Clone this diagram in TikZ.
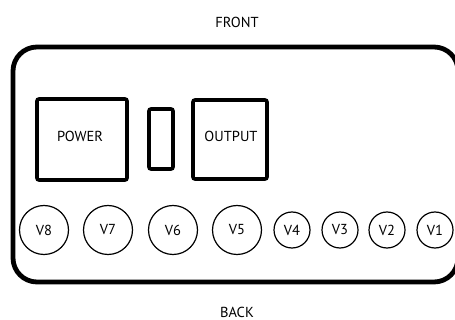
\documentclass[tikz,border=0pt]{standalone}
\usepackage{fontspec}
\setmainfont{PT Sans}
\begin{document}
\begin{tikzpicture}[x=1pt,y=-1pt,
  lbl/.style={font=\fontsize{14.5}{16}\selectfont, inner sep=0pt},
  box/.style={draw, line width=3.6pt, rounded corners=2pt},
  big/.style={draw, circle, line width=1.2pt, minimum size=49pt, inner sep=0pt, font=\fontsize{14.5}{16}\selectfont},
  small/.style={draw, circle, line width=1.2pt, minimum size=36pt, inner sep=0pt, font=\fontsize{14.5}{16}\selectfont}]
\useasboundingbox (0,0) rectangle (455,320);
\begin{scope}
\clip (0,0) rectangle (455,320);
\draw[line width=4.8pt, rounded corners=24pt] (13,47) rectangle (458,282);
\end{scope}
\node[lbl] (front) at (237,22) {FRONT};
\node[lbl] (back) at (237,312) {BACK};
\draw[box] (37,99) rectangle (127,180);
\node[lbl] (power) at (80,136) {POWER};
\draw[box] (149,109) rectangle (173,169);
\draw[box] (193,100) rectangle (267,179);
\node[lbl] (output) at (231,136) {OUTPUT};
\node[big] (v8) at (44,230) {V8};
\node[big] (v7) at (108,230) {V7};
\node[big] (v6) at (173,230) {V6};
\node[big] (v5) at (237,230) {V5};
\node[small] (v4) at (292,230) {V4};
\node[small] (v3) at (340,230) {V3};
\node[small] (v2) at (387,230) {V2};
\node[small] (v1) at (435,230) {V1};
\end{tikzpicture}
\end{document}
